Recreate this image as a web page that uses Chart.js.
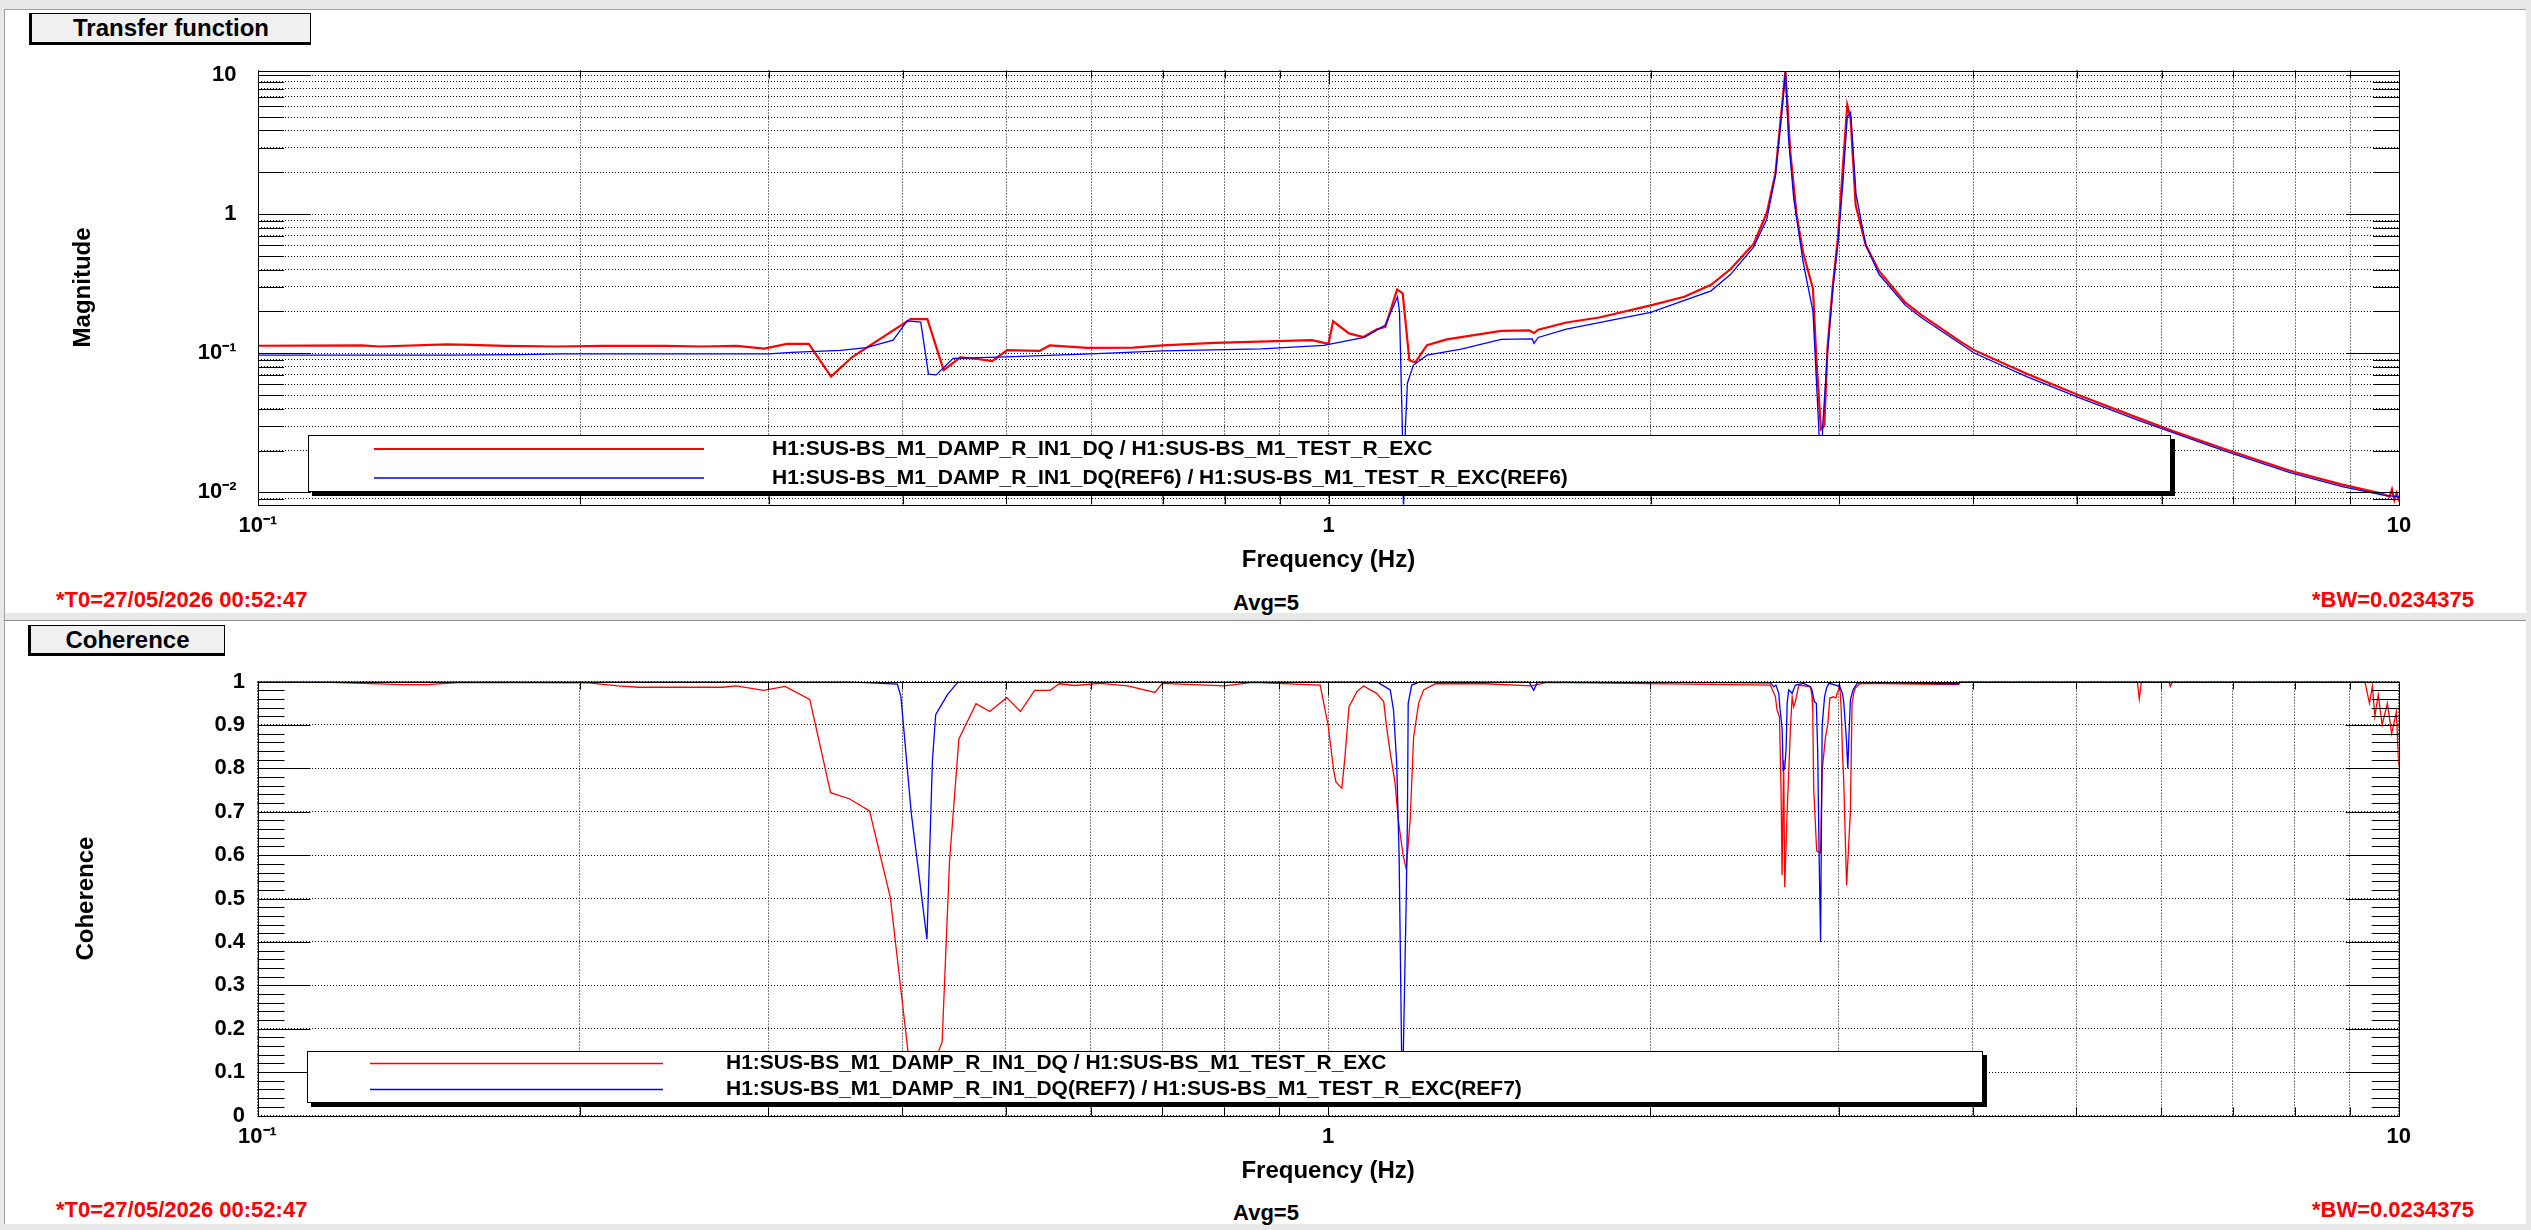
<!DOCTYPE html>
<html>
<head>
<meta charset="utf-8">
<script src="https://cdn.jsdelivr.net/npm/chart.js@4.4.1/dist/chart.umd.min.js"></script>
<style>
html,body{margin:0;padding:0;}
body{width:2531px;height:1230px;position:relative;background:#e8e8e8;overflow:hidden;font-family:"Liberation Sans",Arial,Helvetica,sans-serif;font-weight:bold;}
.pad{position:absolute;background:#fff;}
.line{position:absolute;background:#a0a0a0;}
.titlebox{position:absolute;background:#f0f0f0;border:1px solid #000;border-left-width:3px;border-bottom-width:3px;box-sizing:border-box;text-align:center;font-size:24px;color:#000;}
.info{position:absolute;font-size:22px;line-height:22px;white-space:nowrap;color:#000;}
.red{color:#ff0000;}
canvas{position:absolute;left:0;}
</style>
</head>
<body>
<div class="line" style="left:4px;top:9px;width:2522px;height:1px;"></div>
<div class="line" style="left:4px;top:9px;width:1px;height:1215px;"></div>
<div class="pad" style="left:5px;top:10px;width:2521px;height:603px;"></div>
<div class="line" style="left:4px;top:620px;width:2522px;height:1px;background:#8c8c8c;"></div>
<div class="pad" style="left:5px;top:621px;width:2521px;height:603px;"></div>

<div class="titlebox" style="left:29px;top:13px;width:282px;height:32px;line-height:28px;">Transfer function</div>
<div class="titlebox" style="left:28px;top:625px;width:197px;height:31px;line-height:27px;">Coherence</div>

<div class="info red" style="left:56px;top:589px;">*T0=27/05/2026 00:52:47</div>
<div class="info" style="left:1266px;top:592px;transform:translateX(-50%);">Avg=5</div>
<div class="info red" style="right:57px;top:589px;">*BW=0.0234375</div>
<div class="info red" style="left:56px;top:1199px;">*T0=27/05/2026 00:52:47</div>
<div class="info" style="left:1266px;top:1202px;transform:translateX(-50%);">Avg=5</div>
<div class="info red" style="right:57px;top:1199px;">*BW=0.0234375</div>

<canvas id="tf" width="2531" height="617" style="top:0px;"></canvas>
<canvas id="coh" width="2531" height="613" style="top:617px;"></canvas>

<script>
// ---------------- data: transfer function (magnitude) ----------------
const tfRedFreq = [0.09,0.125,0.13,0.15,0.158,0.17,0.19,0.21,0.24,0.26,0.28,0.297,0.312,0.327,0.343,0.359,0.407,0.422,0.437,0.453,0.47,0.485,0.501,0.537,0.549,0.5955,0.657,0.70,0.782,0.965,1.0,1.01,1.045,1.078,1.11,1.13,1.159,1.173,1.19,1.205,1.236,1.29,1.45,1.54,1.556,1.57,1.668,1.79,2.0,2.15,2.277,2.375,2.495,2.567,2.615,2.65,2.672,2.699,2.737,2.776,2.835,2.855,2.884,2.905,2.925,2.959,2.992,3.022,3.052,3.074,3.108,3.176,3.268,3.457,3.581,3.9,4.01,4.49,5.03,5.71,6.13,6.87,7.91,8.85,9.64,9.8,9.85,9.9,9.95,10.0];
const tfRedMag = [0.113,0.114,0.112,0.116,0.115,0.113,0.112,0.113,0.113,0.112,0.113,0.108,0.117,0.117,0.068,0.094,0.176,0.176,0.0757,0.0934,0.091,0.088,0.1054,0.104,0.114,0.1095,0.110,0.114,0.119,0.1245,0.117,0.170,0.139,0.131,0.149,0.155,0.288,0.270,0.0893,0.086,0.1145,0.126,0.145,0.146,0.140,0.148,0.1667,0.181,0.221,0.255,0.311,0.404,0.611,1.02,1.96,5.6,10.7,2.9,0.99,0.526,0.292,0.0955,0.0285,0.030,0.109,0.311,0.685,2.08,6.1,4.88,1.16,0.6,0.391,0.232,0.188,0.1205,0.1054,0.0713,0.0497,0.0342,0.0279,0.0205,0.0143,0.01137,0.0098,0.0093,0.0105,0.0088,0.0099,0.0086];
const tfBlueFreq = [0.09,0.15,0.176,0.192,0.25,0.30,0.315,0.35,0.37,0.392,0.404,0.416,0.423,0.43,0.446,0.50,0.60,0.70,0.866,0.99,1.08,1.13,1.16,1.165,1.172,1.175,1.18,1.185,1.20,1.236,1.33,1.45,1.55,1.556,1.57,1.668,2.0,2.277,2.375,2.495,2.567,2.615,2.65,2.672,2.69,2.72,2.776,2.835,2.87,2.884,2.895,2.925,2.96,2.992,3.022,3.052,3.074,3.11,3.176,3.268,3.457,3.581,4.01,4.49,5.03,5.71,6.87,7.91,8.85,9.64,10.0];
const tfBlueMag = [0.097,0.097,0.098,0.099,0.099,0.099,0.1015,0.105,0.110,0.1245,0.171,0.168,0.0709,0.070,0.092,0.0944,0.099,0.104,0.1077,0.114,0.130,0.16,0.255,0.2,0.03,0.0075,0.03,0.061,0.082,0.097,0.107,0.126,0.127,0.118,0.13,0.149,0.197,0.2815,0.37,0.58,0.92,1.9,5.2,10.5,3.5,1.3,0.45,0.20,0.03,0.012,0.03,0.10,0.3,0.62,1.6,5.0,5.4,1.4,0.6,0.37,0.222,0.180,0.1005,0.068,0.0478,0.0330,0.0199,0.0139,0.0110,0.0096,0.0093];

// ---------------- data: coherence ----------------
const cohRedFreq = [0.09,0.117,0.1367,0.144,0.155,0.204,0.217,0.227,0.272,0.280,0.297,0.311,0.328,0.343,0.357,0.373,0.390,0.405,0.42,0.436,0.443,0.452,0.469,0.483,0.501,0.516,0.532,0.55,0.561,0.58,0.612,0.65,0.689,0.70,0.80,0.85,0.983,1.0,1.012,1.017,1.030,1.037,1.046,1.064,1.079,1.110,1.127,1.134,1.143,1.155,1.163,1.175,1.183,1.193,1.202,1.215,1.228,1.26,1.40,1.55,1.60,2.589,2.617,2.626,2.640,2.649,2.655,2.664,2.670,2.684,2.703,2.713,2.722,2.732,2.752,2.822,2.832,2.836,2.842,2.86,2.884,2.894,2.915,2.93,2.942,2.965,2.98,2.989,3.006,3.015,3.023,3.031,3.05,3.075,3.086,3.097,3.108,3.142,3.88,3.9,5.70,5.724,5.75,6.10,6.118,6.15,9.3,9.39,9.45,9.5,9.57,9.65,9.76,9.85,9.95,10.0];
const cohRed = [1.0,0.998,0.993,0.993,0.998,0.997,0.99,0.987,0.987,0.99,0.98,0.989,0.959,0.744,0.73,0.702,0.503,0.151,0.06,0.17,0.586,0.868,0.949,0.931,0.963,0.931,0.98,0.98,0.995,0.991,0.996,0.99,0.975,0.996,0.99,0.998,0.992,0.90,0.796,0.769,0.754,0.827,0.942,0.977,0.99,0.973,0.954,0.896,0.835,0.766,0.681,0.60,0.568,0.681,0.873,0.95,0.981,0.995,0.995,0.99,0.998,0.992,0.965,0.935,0.919,0.75,0.554,0.818,0.526,0.70,0.892,0.965,0.942,0.954,0.992,0.988,0.965,0.927,0.75,0.61,0.605,0.796,0.873,0.904,0.962,0.965,0.962,0.973,0.988,0.935,0.835,0.773,0.53,0.70,0.95,0.973,0.985,0.996,0.993,1.0,1.0,0.96,1.0,1.0,0.989,1.0,1.0,0.95,0.99,0.92,0.97,0.90,0.95,0.88,0.93,0.808];
const cohBlueFreq = [0.09,0.354,0.375,0.396,0.399,0.408,0.422,0.427,0.430,0.441,0.451,1.11,1.143,1.151,1.159,1.165,1.173,1.183,1.186,1.188,1.197,1.22,1.54,1.556,1.57,2.589,2.608,2.62,2.636,2.642,2.655,2.661,2.670,2.678,2.684,2.693,2.703,2.713,2.732,2.78,2.822,2.831,2.846,2.858,2.866,2.875,2.884,2.89,2.894,2.909,2.921,2.936,2.98,3.006,3.023,3.031,3.049,3.058,3.066,3.075,3.093,3.120,3.155,3.88,3.9,10.0];
const cohBlue = [1.0,1.0,0.997,0.994,0.966,0.697,0.406,0.818,0.924,0.97,0.999,1.0,0.981,0.935,0.812,0.6,0.02,0.5,0.681,0.95,0.992,1.0,1.0,0.98,1.0,0.997,0.988,0.992,0.973,0.942,0.892,0.796,0.80,0.846,0.95,0.981,0.977,0.973,0.992,0.996,0.988,0.981,0.954,0.95,0.842,0.60,0.40,0.70,0.90,0.965,0.985,0.996,0.992,0.988,0.973,0.954,0.865,0.80,0.88,0.958,0.981,0.996,0.998,0.995,1.0,1.0];

// ---------------- ticks and labels ----------------
const freqTicks = [0.1,0.2,0.3,0.4,0.5,0.6,0.7,0.8,0.9,1,2,3,4,5,6,7,8,9,10];
const freqLabelValues = [0.1,1,10];
const freqLabelTexts = ['10\u207B\u00B9','1','10'];
const magTicks = [0.009,0.01,0.02,0.03,0.04,0.05,0.06,0.07,0.08,0.09,0.1,0.2,0.3,0.4,0.5,0.6,0.7,0.8,0.9,1,2,3,4,5,6,7,8,9,10];
const magLabelValues = [0.01,0.1,1,10];
const magLabelTexts = ['10\u207B\u00B2','10\u207B\u00B9','1','10'];
const cohTicks = [0,0.1,0.2,0.3,0.4,0.5,0.6,0.7,0.8,0.9,1];
const cohLabelTexts = ['0','0.1','0.2','0.3','0.4','0.5','0.6','0.7','0.8','0.9','1'];
const cohMinorTicks = [];
for (let k = 0; k <= 50; k++) cohMinorTicks.push(k / 50);

const legendTF = ['H1:SUS-BS_M1_DAMP_R_IN1_DQ / H1:SUS-BS_M1_TEST_R_EXC',
                  'H1:SUS-BS_M1_DAMP_R_IN1_DQ(REF6) / H1:SUS-BS_M1_TEST_R_EXC(REF6)'];
const legendCoh = ['H1:SUS-BS_M1_DAMP_R_IN1_DQ / H1:SUS-BS_M1_TEST_R_EXC',
                   'H1:SUS-BS_M1_DAMP_R_IN1_DQ(REF7) / H1:SUS-BS_M1_TEST_R_EXC(REF7)'];

// ---------------- helpers ----------------
function pts(xs, ys) {
  const n = Math.min(xs.length, ys.length);
  const out = [];
  for (let i = 0; i < n; i++) out.push({x: xs[i], y: ys[i]});
  return out;
}
function near(a, b) { return Math.abs(a - b) <= 1e-9 + 1e-6 * Math.abs(b); }
function labelFor(values, texts) {
  return function(v) {
    for (let i = 0; i < values.length; i++) if (near(v, values[i])) return texts[i];
    return '';
  };
}

Chart.defaults.font.family = "'Liberation Sans', Arial, Helvetica, sans-serif";
Chart.defaults.font.weight = 'bold';
Chart.defaults.color = '#000';

// ROOT-like frame, inner tick marks and legend, all placed through the chart scales
const rootAxes = {
  id: 'rootAxes',
  afterDatasetsDraw(chart, args, o) {
    const {ctx, chartArea: a, scales: {x, y}} = chart;
    ctx.save();
    ctx.strokeStyle = '#000';
    ctx.lineWidth = 1;
    ctx.setLineDash([]);
    ctx.beginPath();
    o.yTicks.forEach(v => {
      const major = o.yMajor.some(m => near(v, m));
      const len = major ? o.yMajorLen : o.yMinorLen;
      const p = Math.round(y.getPixelForValue(v)) + 0.5;
      ctx.moveTo(a.left, p); ctx.lineTo(a.left + len, p);
      ctx.moveTo(a.right, p); ctx.lineTo(a.right - len, p);
    });
    o.xTicks.forEach(v => {
      const major = o.xMajor.some(m => near(v, m));
      const len = major ? o.xMajorLen : o.xMinorLen;
      const p = Math.round(x.getPixelForValue(v)) + 0.5;
      ctx.moveTo(p, a.bottom); ctx.lineTo(p, a.bottom - len);
      ctx.moveTo(p, a.top); ctx.lineTo(p, a.top + len);
    });
    ctx.stroke();
    ctx.strokeRect(Math.round(a.left) + 0.5, Math.round(a.top) + 0.5,
                   Math.round(a.right - a.left), Math.round(a.bottom - a.top));
    // legend box
    const L = o.legend;
    ctx.fillStyle = '#000';
    ctx.fillRect(L.x + 4, L.y + 4, L.w, L.h);
    ctx.fillStyle = '#fff';
    ctx.fillRect(L.x, L.y, L.w, L.h);
    ctx.strokeRect(L.x + 0.5, L.y + 0.5, L.w - 1, L.h - 1);
    ctx.font = 'bold 21px ' + Chart.defaults.font.family;
    ctx.textBaseline = 'middle';
    ctx.textAlign = 'left';
    chart.data.datasets.forEach((ds, i) => {
      const yy = L.rows[i];
      ctx.strokeStyle = ds.borderColor;
      ctx.lineWidth = ds.borderWidth;
      ctx.beginPath();
      ctx.moveTo(L.lineX0, yy); ctx.lineTo(L.lineX1, yy);
      ctx.stroke();
      ctx.fillStyle = '#000';
      ctx.fillText(ds.label, L.textX, yy);
    });
    ctx.restore();
  }
};

function setTicks(list) {
  return function(scale) { scale.ticks = list.map(v => ({value: v})); };
}

// ---------------- transfer function chart ----------------
new Chart(document.getElementById('tf'), {
  type: 'line',
  data: {
    datasets: [
      {label: legendTF[0], data: pts(tfRedFreq, tfRedMag), borderColor: '#ff0000', borderWidth: 2.2, pointRadius: 0, tension: 0, order: 2},
      {label: legendTF[1], data: pts(tfBlueFreq, tfBlueMag), borderColor: '#0000ff', borderWidth: 1.3, pointRadius: 0, tension: 0, order: 1}
    ]
  },
  options: {
    responsive: false, animation: false, devicePixelRatio: 1,
    layout: {padding: {left: 68.6, right: 132, top: 70.5, bottom: 42.6}},
    plugins: {
      legend: {display: false}, tooltip: {enabled: false},
      rootAxes: {
        xTicks: freqTicks, xMajor: freqLabelValues, xMajorLen: 14, xMinorLen: 8,
        yTicks: magTicks, yMajor: magLabelValues, yMajorLen: 53, yMinorLen: 26,
        legend: {x: 308, y: 435, w: 1863, h: 57, rows: [449, 478], lineX0: 374, lineX1: 704, textX: 772}
      }
    },
    scales: {
      x: {
        type: 'logarithmic', min: 0.1, max: 10,
        afterBuildTicks: setTicks(freqTicks),
        afterFit: s => { s.height = 70; },
        grid: {color: '#000', lineWidth: 1, drawTicks: false, borderDash: [1, 2]},
        border: {display: false, dash: [1, 2]},
        ticks: {autoSkip: false, maxRotation: 0, padding: 8, font: {size: 22, weight: 'bold'}, color: '#000',
                callback: labelFor(freqLabelValues, freqLabelTexts)},
        title: {display: true, text: 'Frequency (Hz)', font: {size: 24, weight: 'bold'}, color: '#000', padding: 0}
      },
      y: {
        type: 'logarithmic', min: 0.0082, max: 10.8,
        afterBuildTicks: setTicks(magTicks),
        afterFit: s => { s.width = 258 - 68.6; },
        grid: {color: '#000', lineWidth: 1, drawTicks: false, borderDash: [1, 2]},
        border: {display: false, dash: [1, 2]},
        ticks: {autoSkip: false, padding: 21.5, font: {size: 22, weight: 'bold'}, color: '#000',
                callback: labelFor(magLabelValues, magLabelTexts)},
        title: {display: true, text: 'Magnitude', font: {size: 24, weight: 'bold'}, color: '#000', padding: 0}
      }
    }
  },
  plugins: [rootAxes]
});

// ---------------- coherence chart ----------------
new Chart(document.getElementById('coh'), {
  type: 'line',
  data: {
    datasets: [
      {label: legendCoh[0], data: pts(cohRedFreq, cohRed), borderColor: '#ff0000', borderWidth: 1.3, pointRadius: 0, tension: 0, order: 2},
      {label: legendCoh[1], data: pts(cohBlueFreq, cohBlue), borderColor: '#0000ff', borderWidth: 1.3, pointRadius: 0, tension: 0, order: 1}
    ]
  },
  options: {
    responsive: false, animation: false, devicePixelRatio: 1,
    layout: {padding: {left: 71.6, right: 132.3, top: 64.6, bottom: 44.6}},
    plugins: {
      legend: {display: false}, tooltip: {enabled: false},
      rootAxes: {
        xTicks: freqTicks, xMajor: freqLabelValues, xMajorLen: 14, xMinorLen: 8,
        yTicks: cohMinorTicks, yMajor: cohTicks, yMajorLen: 53, yMinorLen: 27,
        legend: {x: 307, y: 434, w: 1676, h: 52, rows: [446.5, 472.5], lineX0: 370, lineX1: 663, textX: 726}
      }
    },
    scales: {
      x: {
        type: 'logarithmic', min: 0.1, max: 10,
        afterBuildTicks: setTicks(freqTicks),
        afterFit: s => { s.height = 69.9; },
        grid: {color: '#000', lineWidth: 1, drawTicks: false, borderDash: [1, 2]},
        border: {display: false, dash: [1, 2]},
        ticks: {autoSkip: false, maxRotation: 0, padding: 8, font: {size: 22, weight: 'bold'}, color: '#000',
                callback: labelFor(freqLabelValues, freqLabelTexts)},
        title: {display: true, text: 'Frequency (Hz)', font: {size: 24, weight: 'bold'}, color: '#000', padding: 0}
      },
      y: {
        type: 'linear', min: 0, max: 1,
        afterBuildTicks: setTicks(cohTicks),
        afterFit: s => { s.width = 257.5 - 71.6; },
        grid: {color: '#000', lineWidth: 1, drawTicks: false, borderDash: [1, 2]},
        border: {display: false, dash: [1, 2]},
        ticks: {autoSkip: false, padding: 12.5, font: {size: 22, weight: 'bold'}, color: '#000',
                callback: labelFor(cohTicks, cohLabelTexts)},
        title: {display: true, text: 'Coherence', font: {size: 24, weight: 'bold'}, color: '#000', padding: 0}
      }
    }
  },
  plugins: [rootAxes]
});
</script>
</body>
</html>
